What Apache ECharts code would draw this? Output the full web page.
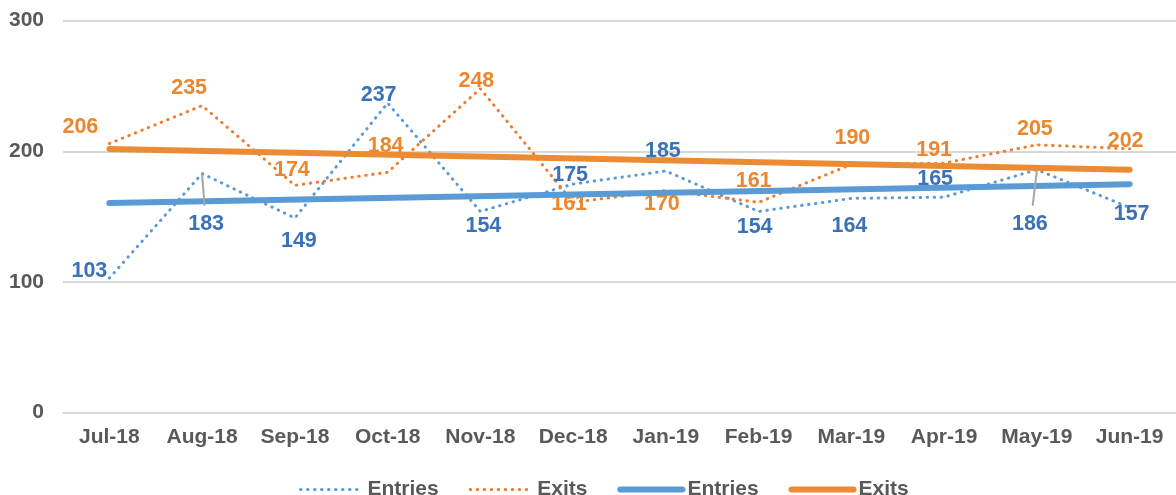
<!DOCTYPE html>
<html><head><meta charset="utf-8">
<script src="https://cdn.jsdelivr.net/npm/echarts@6/dist/echarts.min.js"></script>
<style>html,body{margin:0;padding:0;background:#fff}#c{width:1176px;height:495px}</style>
</head><body><div id="c"></div>
<script>
const categories = ['Jul-18','Aug-18','Sep-18','Oct-18','Nov-18','Dec-18','Jan-19','Feb-19','Mar-19','Apr-19','May-19','Jun-19'];
const entries = [103,183,149,237,154,175,185,154,164,165,186,157];
const exits = [206,235,174,184,248,161,170,161,190,191,205,202];
// linear trend end values (first and last month)
const entriesTrend = [160.4, 174.9];
const exitsTrend = [201.9, 185.9];
const yMin = 0, yMax = 300, yStep = 100;

// label placement (style only)
const entriesLabelOffset = [[-20,-7],[4,50],[4,23],[-9,-8],[3,15],[-3,-9],[-3,-20],[-4,16],[-2,28],[-9,-18],[-7,54],[2,7]];
const exitsLabelOffset = [[-29,-16],[-13,-18],[-3,-15],[-2,-26],[-4,-8],[-4,2],[-4,14],[-5,-21],[1,-26],[-10,-13],[-2,-16],[-4,-8]];
const leaderIdx = [1, 10];

const FONT = "'Liberation Sans', Arial, sans-serif";
const C_BLUE = '#5B9BD5', C_ORANGE = '#ED7D31', C_ORANGE_T = '#EB8C35';
const L_BLUE = '#3A71B7', L_ORANGE = '#EA872F';
const DOT = [0.5, 6.5];

function labeled(vals, offs, color) {
  return vals.map((v, i) => ({
    value: v,
    label: { show: true, position: 'inside', offset: offs[i], color: color,
             fontFamily: FONT, fontWeight: 'bold', fontSize: 21.5 }
  }));
}

const chart = echarts.init(document.getElementById('c'), null, {renderer: 'canvas'});
const last = categories.length - 1;
chart.setOption({
  animation: false,
  backgroundColor: '#fff',
  grid: { left: 63, right: -6, top: 20.7, bottom: 82.3, containLabel: false },
  xAxis: {
    type: 'category', data: categories, boundaryGap: true,
    axisLine: { show: true, lineStyle: { color: '#D9D9D9', width: 2 } },
    axisTick: { show: false },
    axisLabel: { color: '#595959', fontFamily: FONT, fontWeight: 'bold', fontSize: 21, margin: 14, interval: 0 }
  },
  yAxis: {
    type: 'value', min: yMin, max: yMax, interval: yStep,
    axisLine: { show: false }, axisTick: { show: false },
    splitLine: { lineStyle: { color: '#D9D9D9', width: 2 } },
    axisLabel: { color: '#595959', fontFamily: FONT, fontWeight: 'bold', fontSize: 21, margin: 19 }
  },
  legend: {
    left: 294, top: 474, itemWidth: 62, itemHeight: 14, itemGap: 30,
    itemStyle: { opacity: 0 },
    textStyle: { color: '#595959', fontFamily: FONT, fontWeight: 'bold', fontSize: 21 },
    formatter: n => n.replace(' trend', ''),
    data: [
      { name: 'Entries', lineStyle: { width: 3, type: DOT, cap: 'round' } },
      { name: 'Exits', lineStyle: { width: 3, type: DOT, cap: 'round' } },
      { name: 'Entries trend', lineStyle: { width: 6, cap: 'round' } },
      { name: 'Exits trend', lineStyle: { width: 6, cap: 'round' } }
    ]
  },
  series: [
    { name: 'Entries', type: 'line', symbol: 'circle', symbolSize: 1, z: 2,
      lineStyle: { color: C_BLUE, width: 3, type: DOT, cap: 'round' },
      itemStyle: { color: C_BLUE },
      data: labeled(entries, entriesLabelOffset, L_BLUE) },
    { name: 'Exits', type: 'line', symbol: 'circle', symbolSize: 1, z: 2,
      lineStyle: { color: C_ORANGE, width: 3, type: DOT, cap: 'round' },
      itemStyle: { color: C_ORANGE },
      data: labeled(exits, exitsLabelOffset, L_ORANGE) },
    { name: 'Entries trend', type: 'line', symbol: 'none', z: 3,
      lineStyle: { color: C_BLUE, width: 6, cap: 'round' }, itemStyle: { color: C_BLUE },
      data: [[0, entriesTrend[0]], [last, entriesTrend[1]]] },
    { name: 'Exits trend', type: 'line', symbol: 'none', z: 3,
      lineStyle: { color: C_ORANGE_T, width: 6, cap: 'round' }, itemStyle: { color: C_ORANGE_T },
      data: [[0, exitsTrend[0]], [last, exitsTrend[1]]] }
  ]
});

// leader lines from point to displaced label
const g = leaderIdx.map(i => {
  const p = chart.convertToPixel({seriesIndex: 0}, [i, entries[i]]);
  const o = entriesLabelOffset[i];
  return { type: 'line', z: 10, silent: true,
    shape: { x1: p[0], y1: p[1] + 1, x2: p[0] + o[0] * 0.6, y2: p[1] + o[1] - 18 },
    style: { stroke: '#A6A6A6', lineWidth: 2 } };
});
chart.setOption({ graphic: g });
</script></body></html>
